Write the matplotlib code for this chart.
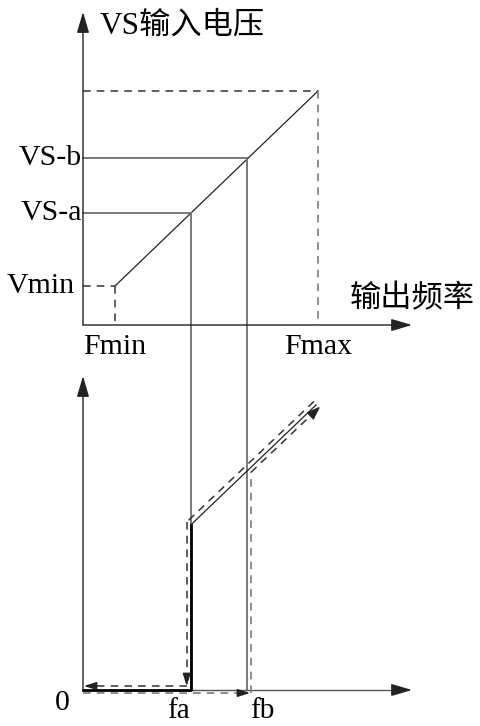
import numpy as np
import matplotlib.pyplot as plt

plt.rcParams['font.family'] = ['Liberation Serif', 'Noto Sans CJK SC', 'DejaVu Sans']

# schematic positions (pixel-like units of the drawing)
origin_x = 83
top_base_y = 325
bot_base_y = 690
top_axis_tip = (412, 12)
bot_axis_tip = (412, 376)

freq_labels = ['Fmin', 'Fmax']
freq_x = [115, 318]
fa_x, fb_x = 190.7, 247

volt_labels = ['Vmin', 'VS-a', 'VS-b']
volt_y = [286, 213, 158]
vmax_y = 91

# lower panel: jump point at fa and end of the ramp
ramp_start = (190.7, 525)
ramp_end = (316, 405)

dark = '#222222'
gray = '#707070'
dash = (5, 4)

fig = plt.figure(figsize=(4.81, 7.26), dpi=100)
ax = fig.add_axes([0, 0, 1, 1])
ax.set_xlim(0, 481)
ax.set_ylim(726, 0)
ax.axis('off')


def arrow(p0, p1, lw=1.0, color=dark, ls='-', hl=0.85, hw=0.25):
    ax.annotate('', xy=p1, xytext=p0,
                arrowprops=dict(arrowstyle='-|>,head_length=%s,head_width=%s' % (hl, hw),
                                mutation_scale=15, lw=lw, color=color, linestyle=ls,
                                shrinkA=0, shrinkB=0))


def dashed(xs, ys, lw=1.1, color='#333333'):
    ax.plot(xs, ys, color=color, lw=lw, dashes=dash)


# ---- top panel: VS vs output frequency ----
arrow((origin_x, top_base_y), (origin_x, top_axis_tip[1]))
arrow((origin_x, top_base_y), (top_axis_tip[0], top_base_y))

ax.plot([freq_x[0], freq_x[1]], [volt_y[0], vmax_y], color=dark, lw=0.9)
dashed([origin_x, freq_x[1]], [vmax_y, vmax_y])
dashed([freq_x[1], freq_x[1]], [vmax_y, top_base_y], color=gray)
dashed([origin_x, freq_x[0]], [volt_y[0], volt_y[0]])
dashed([freq_x[0], freq_x[0]], [volt_y[0], top_base_y])

for fx, vy in zip([fa_x, fb_x], volt_y[1:]):
    ax.plot([origin_x, fx], [vy, vy], color=gray, lw=1.3)
    ax.plot([fx, fx], [vy, bot_base_y], color=gray, lw=1.3)

for lab, vy in zip(volt_labels, volt_y):
    x_end = 75 if lab == 'Vmin' else 82
    ax.text(x_end, vy, lab, ha='right', va='center', fontsize=21.5)
for lab, fx in zip(freq_labels, freq_x):
    ax.text(fx, 347, lab, ha='center', va='center', fontsize=21.5)

ax.text(100, 26, 'VS输入电压', ha='left', va='center', fontsize=22.5)
ax.text(350, 300, '输出频率', ha='left', va='center', fontsize=22.5)

# ---- bottom panel: response ----
arrow((origin_x, bot_base_y), (origin_x, bot_axis_tip[1]))
ax.plot([fa_x, bot_axis_tip[0] - 10], [bot_base_y, bot_base_y], color='#555555', lw=1.0)
arrow((bot_axis_tip[0] - 12, bot_base_y), (bot_axis_tip[0], bot_base_y))

# solid response
ax.plot([origin_x, fa_x, fa_x], [bot_base_y - 0.5, bot_base_y - 0.5, ramp_start[1]],
        color='black', lw=2.0)
ax.plot([ramp_start[0], ramp_end[0]], [ramp_start[1], ramp_end[1]], color=dark, lw=0.9)

d = np.array(ramp_end) - np.array(ramp_start)
u = d / np.hypot(*d)
n = np.array([-u[1], u[0]])  # points down-right in screen coords
off = 4.0

# descending path (upper-left dashed)
p_top = np.array(ramp_end) - n * off + u * 1
p_fa = np.array([fa_x - 4, ramp_start[1] - 3])
dashed([p_top[0], p_fa[0], p_fa[0]], [p_top[1], p_fa[1], p_fa[1]])
dashed([fa_x - 4, fa_x - 4], [ramp_start[1] - 3, bot_base_y - 8])
arrow((fa_x - 4, bot_base_y - 10), (fa_x - 4, bot_base_y - 4), lw=1.0, hl=0.5, hw=0.16)
dashed([fa_x - 4, origin_x + 8], [bot_base_y - 4, bot_base_y - 4])
arrow((origin_x + 8, bot_base_y - 4), (origin_x + 1, bot_base_y - 4), lw=1.0, hl=0.5, hw=0.16)

# ascending path (lower-right dashed)
y_fb = ramp_start[1] + (fb_x + 4 - ramp_start[0]) * d[1] / d[0] + off + 1
dashed([origin_x, fb_x - 6], [bot_base_y + 3, bot_base_y + 3], color=gray)
arrow((fb_x - 6, bot_base_y + 3), (fb_x + 3, bot_base_y + 3), lw=1.0, hl=0.5, hw=0.16)
dashed([fb_x + 4, fb_x + 4], [bot_base_y + 3, y_fb], color=gray)
q_end = np.array(ramp_end) + n * off + u * 2
dashed([fb_x + 4, q_end[0] - 5 * u[0]], [y_fb, q_end[1] - 5 * u[1]])
arrow((q_end[0] - 5 * u[0], q_end[1] - 5 * u[1]), tuple(q_end), lw=1.0, hl=0.55, hw=0.2)

ax.text(62, 703, '0', ha='center', va='center', fontsize=21.5)
ax.text(178, 711, 'fa', ha='center', va='center', fontsize=21)
ax.text(262, 711, 'fb', ha='center', va='center', fontsize=21)

fig.savefig('out.png', dpi=100)
